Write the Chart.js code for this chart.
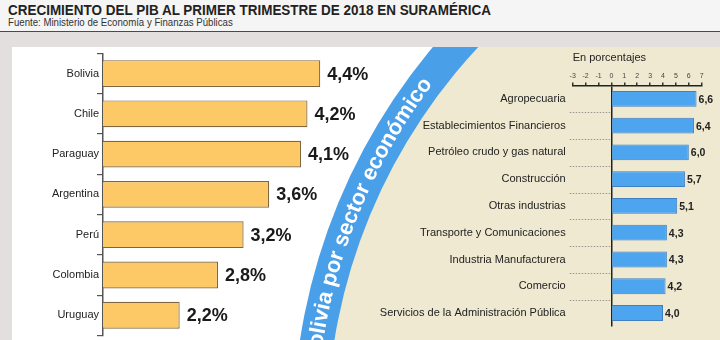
<!DOCTYPE html>
<html>
<head>
<meta charset="utf-8">
<script src="https://cdn.jsdelivr.net/npm/chart.js@4"></script>
<style>
  html, body { margin: 0; padding: 0; }
  body { width: 720px; height: 340px; overflow: hidden; position: relative; background: #e3dfdf; font-family: "Liberation Sans", Arial, sans-serif; }
  #head { position: absolute; left: 0; top: 0; width: 720px; height: 31px; background: #f5f5f5; border-bottom: 1.5px solid #4a4a4a; }
  #title { position: absolute; left: 8px; top: 2px; font-size: 14px; line-height: 16px; font-weight: bold; color: #222; white-space: nowrap; transform: scaleX(0.962); transform-origin: 0 0; }
  #source { position: absolute; left: 8px; top: 18px; font-size: 10px; line-height: 10px; color: #333; white-space: nowrap; transform: scaleX(0.965); transform-origin: 0 0; }
  #sectores { position: absolute; left: 12px; top: 47px; z-index: 1; }
  #paises { position: absolute; left: 12px; top: 47px; z-index: 2; }
</style>
</head>
<body>
<div id="head">
  <div id="title">CRECIMIENTO DEL PIB AL PRIMER TRIMESTRE DE 2018 EN SURAMÉRICA</div>
  <div id="source">Fuente: Ministerio de Economía y Finanzas Públicas</div>
</div>
<canvas id="sectores" width="708" height="293"></canvas>
<canvas id="paises" width="420" height="293"></canvas>
<script>
// crecimiento del PIB por país, primer trimestre 2018 (%)
const countries = ['Bolivia', 'Chile', 'Paraguay', 'Argentina', 'Perú', 'Colombia', 'Uruguay'];
const growth = [4.4, 4.2, 4.1, 3.6, 3.2, 2.8, 2.2];

// Bolivia por sector económico (%)
const sectors = [
  'Agropecuaria',
  'Establecimientos Financieros',
  'Petróleo crudo y gas natural',
  'Construcción',
  'Otras industrias',
  'Transporte y Comunicaciones',
  'Industria Manufacturera',
  'Comercio',
  'Servicios de la Administración Pública'
];
const sectorGrowth = [6.6, 6.4, 6.0, 5.7, 5.1, 4.3, 4.3, 4.2, 4.0];

const bandText = 'Bolivia por sector económico';

Chart.defaults.font.family = '"Liberation Sans", Arial, sans-serif';

function fmt(v) {
  return v.toFixed(1).replace('.', ',');
}

// writes the value at the end of every bar
const valueLabels = {
  id: 'valueLabels',
  afterDatasetsDraw(chart, args, opts) {
    const ctx = chart.ctx;
    const values = chart.data.datasets[0].data;
    ctx.save();
    ctx.font = opts.font;
    ctx.fillStyle = opts.color;
    ctx.textBaseline = 'middle';
    ctx.textAlign = 'left';
    chart.getDatasetMeta(0).data.forEach(function (bar, i) {
      ctx.fillText(fmt(values[i]) + opts.suffix, bar.x + opts.offset, bar.y + 1);
    });
    ctx.restore();
  }
};

// white / blue band / beige background with the curved caption
const band = {
  id: 'band',
  beforeDraw(chart) {
    const ctx = chart.ctx;
    const cx = 878, cy = 384;   // circle centre, canvas coords
    const rIn = 563, rOut = 597, rText = 580;
    ctx.save();
    ctx.fillStyle = '#ffffff';
    ctx.fillRect(0, 0, chart.width, chart.height);
    ctx.fillStyle = '#4a9fe9';
    ctx.beginPath(); ctx.arc(cx, cy, rOut, 0, Math.PI * 2); ctx.fill();
    ctx.fillStyle = '#efe9d1';
    ctx.beginPath(); ctx.arc(cx, cy, rIn, 0, Math.PI * 2); ctx.fill();

    ctx.font = 'bold 22px "Liberation Sans", Arial, sans-serif';
    ctx.fillStyle = '#ffffff';
    ctx.textAlign = 'center';
    ctx.textBaseline = 'middle';
    const total = ctx.measureText(bandText).width;
    let a = 217.2 * Math.PI / 180 - total / rText;
    for (const ch of bandText) {
      const w = ctx.measureText(ch).width;
      const mid = a + (w / 2) / rText;
      ctx.save();
      ctx.translate(cx + rText * Math.cos(mid), cy + rText * Math.sin(mid));
      ctx.rotate(mid + Math.PI / 2);
      ctx.fillText(ch, 0, 0);
      ctx.restore();
      a += w / rText;
    }
    ctx.restore();
  }
};

// dotted separators left of the zero line
const sectorGuides = {
  id: 'sectorGuides',
  beforeDatasetsDraw(chart) {
    const ctx = chart.ctx;
    const x = chart.scales.x, y = chart.scales.y;
    ctx.save();
    ctx.strokeStyle = '#9a958a';
    ctx.lineWidth = 1;
    ctx.setLineDash([1.5, 1.5]);
    for (let i = 1; i < sectors.length; i++) {
      const py = Math.round((y.getPixelForValue(i - 1) + y.getPixelForValue(i)) / 2) + 0.5;
      ctx.beginPath();
      ctx.moveTo(x.left - 3, py);
      ctx.lineTo(x.getPixelForValue(0), py);
      ctx.stroke();
    }
    ctx.restore();
  }
};

new Chart(document.getElementById('sectores'), {
  type: 'bar',
  data: {
    labels: sectors,
    datasets: [{
      data: sectorGrowth,
      backgroundColor: '#4da4ef',
      borderColor: '#3f7fc2',
      borderWidth: 1,
      categoryPercentage: 1,
      barPercentage: 0.59
    }]
  },
  plugins: [band, sectorGuides, valueLabels],
  options: {
    indexAxis: 'y',
    responsive: false,
    animation: false,
    layout: { padding: { left: 0, right: 18.3, top: 0, bottom: 0 } },
    scales: {
      x: {
        position: 'top',
        min: -3,
        max: 7,
        z: 1,
        afterFit: function (s) { s.height = 38.5; },
        ticks: { stepSize: 1, color: '#444', font: { size: 7 }, padding: 2, autoSkip: false, maxRotation: 0 },
        grid: {
          color: function (c) { return c.tick && c.tick.value === 0 ? '#222' : 'rgba(0,0,0,0)'; },
          lineWidth: 1.5,
          tickColor: '#333',
          tickLength: 3
        },
        border: { color: '#222', width: 1.5 },
        title: { display: true, text: 'En porcentajes', align: 'start', color: '#222', font: { size: 11 }, padding: { top: 4, bottom: 0 } }
      },
      y: {
        afterFit: function (s) { s.width = 560.7; },
        border: { display: false },
        grid: { display: false, drawTicks: false },
        ticks: { color: '#222', font: { size: 11 }, padding: 7 }
      }
    },
    plugins: {
      legend: { display: false },
      tooltip: { enabled: false },
      valueLabels: { font: 'bold 10.5px "Liberation Sans", Arial, sans-serif', color: '#222', suffix: '', offset: 2 }
    }
  }
});

new Chart(document.getElementById('paises'), {
  type: 'bar',
  data: {
    labels: countries,
    datasets: [{
      data: growth,
      backgroundColor: '#fdc866',
      borderColor: '#7f6540',
      borderWidth: 1.2,
      borderSkipped: false,
      categoryPercentage: 1,
      barPercentage: 0.666
    }]
  },
  plugins: [valueLabels],
  options: {
    indexAxis: 'y',
    responsive: false,
    animation: false,
    layout: { padding: { left: 0, right: 9.5, top: 6.4, bottom: 2.7 } },
    scales: {
      x: { display: false, min: 1, max: 6 },
      y: {
        afterFit: function (s) { s.width = 91; },
        border: { color: '#555', width: 1.5 },
        grid: { drawOnChartArea: false, tickLength: 6, tickColor: '#555', lineWidth: 1.2 },
        ticks: { color: '#222', font: { size: 11 }, padding: -2 }
      }
    },
    plugins: {
      legend: { display: false },
      tooltip: { enabled: false },
      valueLabels: { font: 'bold 18px "Liberation Sans", Arial, sans-serif', color: '#1a1a1a', suffix: '%', offset: 7 }
    }
  }
});
</script>
</body>
</html>
